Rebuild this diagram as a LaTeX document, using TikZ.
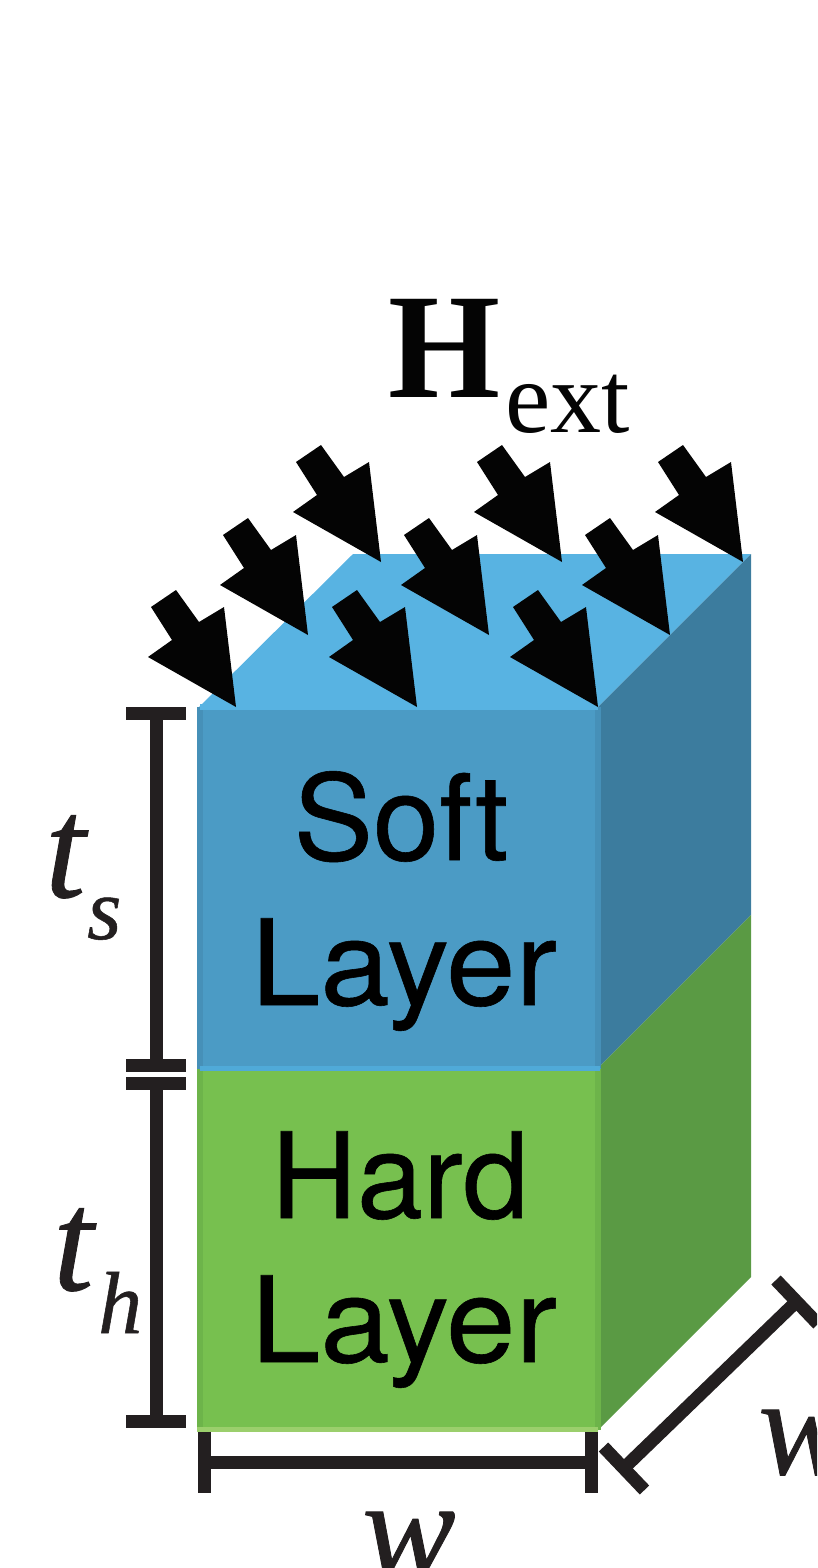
\documentclass[tikz,border=0pt]{standalone}
\usepackage{fontspec}
\setmainfont{Liberation Serif}
\setsansfont{TeX Gyre Heros}
\definecolor{topblue}{HTML}{58B3E2}
\definecolor{frontblue}{HTML}{4B9BC5}
\definecolor{edgeblue}{HTML}{4690B8}
\definecolor{sideblue}{HTML}{3C7C9E}
\definecolor{stripblue}{HTML}{50AAD8}
\definecolor{frontgreen}{HTML}{77C04F}
\definecolor{edgegreen}{HTML}{6DB44A}
\definecolor{sidegreen}{HTML}{5A9A44}
\definecolor{stripgreen}{HTML}{9BCF6C}
\definecolor{dimink}{HTML}{231F20}
\definecolor{arrowink}{HTML}{040404}
\tikzset{
  dimline/.style={draw=dimink,line width=13pt},
  layertext/.style={anchor=base,inner sep=0pt,font=\fontsize{119}{119}\selectfont\sffamily\addfontfeature{FakeBold=0.5},text=black},
  widetext/.style={layertext,font=\fontsize{119}{119}\selectfont\sffamily\addfontfeature{FakeBold=0.5,FakeStretch=1.05}},
  symtext/.style={anchor=base west,inner sep=0pt,font=\fontsize{#1}{#1}\selectfont\itshape\addfontfeature{FakeBold=0.6},text=dimink},
}
\begin{document}
\begin{tikzpicture}[x=1pt,y=-1pt]
\useasboundingbox (0,0) rectangle (817,1568);
\clip (0,0) rectangle (817,1568);
% cuboid
\fill[topblue] (199,707) -- (353,554) -- (751,554) -- (598,707) -- cycle;
\fill[sideblue] (598,707) -- (751,554) -- (751,915) -- (598,1068) -- cycle;
\fill[sidegreen] (598,1068) -- (751,915) -- (751,1277) -- (598,1430) -- cycle;
\fill[frontblue] (197,707) rectangle (601,1070);
\fill[frontgreen] (197,1069) rectangle (601,1430);
\fill[edgeblue] (197,707) rectangle (203,1069);
\fill[edgeblue] (595,707) rectangle (601,1068);
\fill[edgegreen] (197,1069) rectangle (203,1430);
\fill[edgegreen] (595,1069) rectangle (601,1430);
\fill[topblue] (200,704) rectangle (598,710);
\fill[stripblue] (200,1066) rectangle (600,1071);
\fill[stripgreen] (197,1427) rectangle (598,1432);
% field arrows
\foreach \tx/\ty in {236/707,308/635,381/562,417/707,489/635,562/562,598/707,670/635,743/562}{
  \fill[arrowink,shift={(\tx,\ty)}] (0,0) -- (-12,-100) -- (-37,-85) -- (-60,-117) -- (-85,-100) -- (-64,-67) -- (-88,-50) -- cycle;
}
% dimension marks
\coordinate (tsa) at (156,713);
\coordinate (tsb) at (156,1065);
\coordinate (tha) at (156,1083);
\coordinate (thb) at (156,1421);
\draw[dimline] (tsa) -- (tsb);
\draw[dimline] (tha) -- (thb);
\draw[dimline] (126,713.5) -- (186,713.5);
\draw[dimline] (126,1065.5) -- (186,1065.5);
\draw[dimline] (126,1083.5) -- (186,1083.5);
\draw[dimline] (126,1421.5) -- (186,1421.5);
\coordinate (wa) at (204.5,1462.5);
\coordinate (wb) at (591.5,1462.5);
\draw[dimline] (wa) -- (wb);
\draw[dimline] (204.5,1432) -- (204.5,1493);
\draw[dimline] (591.5,1432) -- (591.5,1493);
\coordinate (da) at (624,1468);
\coordinate (db) at (797,1301);
\draw[dimline] (da) -- (db);
\draw[dimline] (603.5,1447) -- (644.5,1490);
\draw[dimline] (776,1280) -- (818,1324);
% texts
\node[layertext] (soft) at (401,860) {Soft};
\node[widetext] (layera) at (404,1005) {Layer};
\node[layertext] (hard) at (400,1218) {Hard};
\node[widetext] (layerb) at (404,1362) {Layer};
\node[anchor=base,inner sep=0pt,font=\fontsize{150}{150}\selectfont\bfseries\addfontfeature{FakeStretch=0.96},text=arrowink] (hlabel) at (444,397) {H};
\node[anchor=base west,inner sep=0pt,font=\fontsize{102}{102}\selectfont,text=arrowink] (extlabel) at (505,432) {ext};
\node[symtext=145] (tslabel) at (45,897) {t};
\node[symtext=88] (sslabel) at (87,939) {s};
\node[symtext=145] (thlabel) at (53,1290) {t};
\node[symtext=88] (shlabel) at (98,1333) {h};
\node[symtext=140] (wlabel) at (362,1576) {w};
\node[symtext=140] (wdlabel) at (758,1474) {w};
\end{tikzpicture}
\end{document}
